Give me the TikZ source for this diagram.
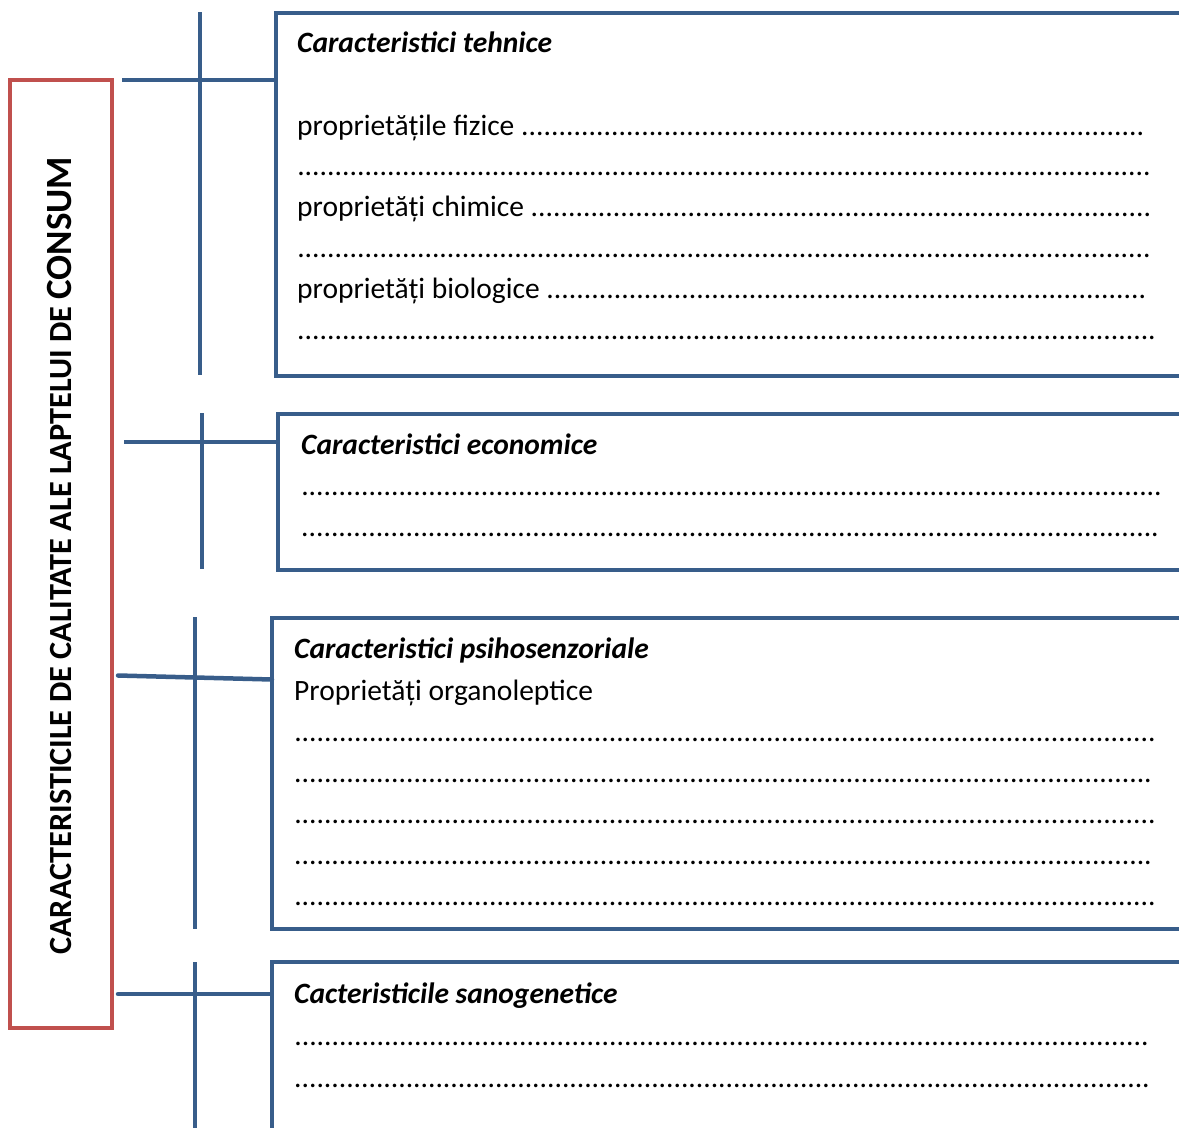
\documentclass[tikz,border=0pt]{standalone}
\usepackage{fontspec}
\setmainfont{Carlito}
\definecolor{bl}{HTML}{385D8A}
\definecolor{rd}{HTML}{C0504D}
\newcommand{\dl}[2]{\hbox to #2pt{#1\xleaders\hbox{.}\hfill}}
\begin{document}
\begin{tikzpicture}[x=1pt,y=-1pt,
  boxline/.style={draw=bl, line width=4.5pt},
  conn/.style={draw=bl, line width=4.5pt},
  panel/.style={draw=bl, line width=4.5pt, inner sep=0pt},
  txt/.style={anchor=base west, inner sep=0pt, font=\fontsize{29.5}{35}\selectfont},
  ttl/.style={anchor=base west, inner sep=0pt, font=\fontsize{29.5}{35}\selectfont\bfseries\itshape},
]
\useasboundingbox (0,0) rectangle (1179,1128);
\clip (0,0) rectangle (1179,1128);

% main red box
\node[draw=rd, line width=4pt, minimum width=102pt, minimum height=948pt, inner sep=0pt] (main) at (61,554) {};
\node[rotate=90, anchor=base west, inner sep=0pt, font=\bfseries\fontsize{32.3}{38}\selectfont] (maintxt) at (71,955)
  {CARACTERISTICILE DE CALITATE ALE LAPTELUI DE {\fontsize{37}{42}\selectfont CONSUM}};

% panels (right/bottom sides run off the page)
\node[panel, minimum width=924pt, minimum height=363pt] (box1) at (738,194.5) {};
\node[panel, minimum width=922pt, minimum height=156pt] (box2) at (739,492) {};
\node[panel, minimum width=928pt, minimum height=311pt] (box3) at (736,773.5) {};
\node[panel, minimum width=928pt, minimum height=238pt] (box4) at (736,1081) {};

% vertical bars
\coordinate (v1a) at (200,12);  \coordinate (v1b) at (200,375);
\coordinate (v2a) at (202,413); \coordinate (v2b) at (202,569);
\coordinate (v3a) at (195,617); \coordinate (v3b) at (195,929);
\coordinate (v4a) at (195,962); \coordinate (v4b) at (195,1140);
\draw[boxline] (v1a) -- (v1b);
\draw[boxline] (v2a) -- (v2b);
\draw[boxline] (v3a) -- (v3b);
\draw[boxline] (v4a) -- (v4b);

% connectors
\coordinate (s1) at (122,80);
\coordinate (s2) at (124,442);
\coordinate (s3) at (118,675.5);
\coordinate (e3) at (272,679.5);
\coordinate (s4) at (118,994);
\draw[conn] (s1) -- (s1 -| box1.west);
\draw[conn] (s2) -- (s2 -| box2.west);
\draw[conn, line cap=round] (s3) -- (e3);
\draw[conn, line cap=round] (s4) -- (s4 -| box4.west);

% texts box 1
\node[ttl] (t1) at (297,52) {Caracteristici tehnice};
\node[txt] (t1a) at (297,135) {\dl{proprietățile fizice }{848}};
\node[txt] (t1b) at (297,175) {\dl{}{855}};
\node[txt] (t1c) at (297,216) {\dl{proprietăți chimice }{855}};
\node[txt] (t1d) at (297,257) {\dl{}{855}};
\node[txt] (t1e) at (297,298) {\dl{proprietăți biologice }{850}};
\node[txt] (t1f) at (297,339) {\dl{}{860}};

% texts box 2
\node[ttl] (t2) at (301,454) {Caracteristici economice};
\node[txt] (t2a) at (301,495) {\dl{}{862}};
\node[txt] (t2b) at (301,536) {\dl{}{859}};

% texts box 3
\node[ttl] (t3) at (294,658) {Caracteristici psihosenzoriale};
\node[txt] (t3o) at (294,700) {Proprietăți organoleptice};
\node[txt] (t3a) at (294,741) {\dl{}{863}};
\node[txt] (t3b) at (294,782) {\dl{}{859}};
\node[txt] (t3c) at (294,823) {\dl{}{863}};
\node[txt] (t3d) at (294,864) {\dl{}{859}};
\node[txt] (t3e) at (294,905) {\dl{}{863}};

% texts box 4
\node[ttl] (t4) at (294,1003) {Cacteristicile sanogenetice};
\node[txt] (t4a) at (294,1045) {\dl{}{856}};
\node[txt] (t4b) at (294,1087) {\dl{}{857}};
\end{tikzpicture}
\end{document}
